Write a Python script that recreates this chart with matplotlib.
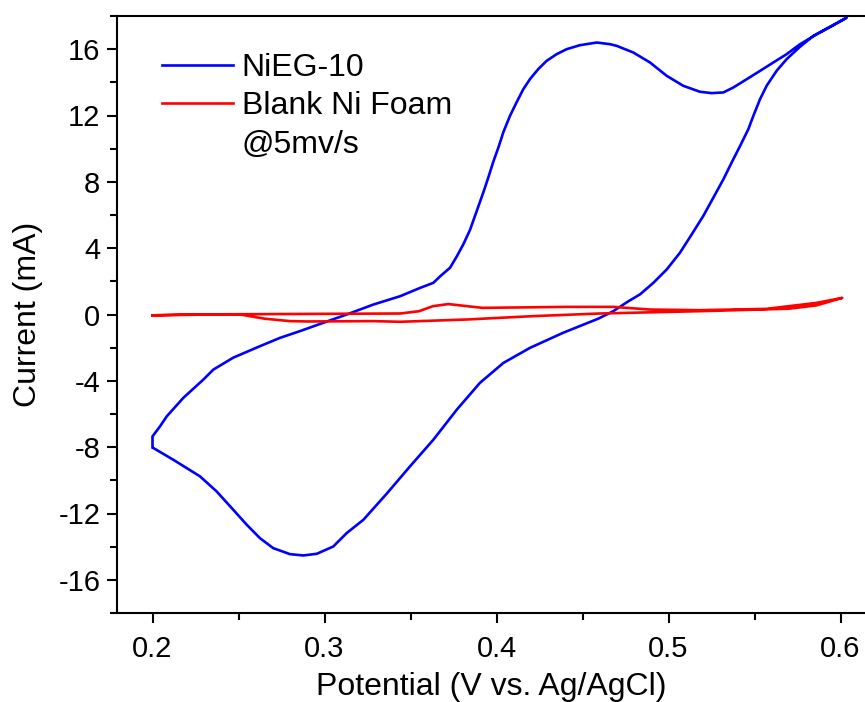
import matplotlib
matplotlib.use('Agg')
import matplotlib.pyplot as plt
from matplotlib.lines import Line2D
from matplotlib.ticker import MultipleLocator

plt.rcParams.update({'font.family': 'Liberation Sans', 'font.size': 21})

# NiEG-10 cyclic voltammogram, anodic then cathodic sweep
nieg_v = [0.200, 0.200, 0.2044, 0.2083, 0.2179, 0.2295, 0.2354, 0.247, 0.2625, 0.2741,
          0.2858, 0.2993, 0.3129, 0.3284, 0.3439, 0.3555, 0.3633, 0.3672, 0.373,
          0.3769, 0.3807, 0.3846, 0.3885, 0.3923, 0.3952, 0.3981, 0.4011, 0.404,
          0.4078, 0.4117, 0.4156, 0.4195, 0.4243, 0.4292, 0.435, 0.4408, 0.4485,
          0.4583, 0.466, 0.4699, 0.4795, 0.4892, 0.499, 0.5086, 0.5183, 0.5251,
          0.5319, 0.5377, 0.5455, 0.5532, 0.561, 0.5687, 0.5765, 0.5862, 0.596,
          0.6036,
          0.5842, 0.5765, 0.5687, 0.5629, 0.5571, 0.5532, 0.5493, 0.5464, 0.5416,
          0.5367, 0.5319, 0.5261, 0.5202, 0.5135, 0.5067, 0.499, 0.4912, 0.4834,
          0.4767, 0.4679, 0.4592, 0.4388, 0.4195, 0.404, 0.3904, 0.3769, 0.3633,
          0.3497, 0.3362, 0.3226, 0.3129, 0.3051, 0.2955, 0.2877, 0.2799, 0.2702,
          0.2625, 0.2548, 0.247, 0.2373, 0.2276, 0.2121, 0.2005]
nieg_i = [-8.0, -7.35, -6.74, -6.14, -5.03, -3.93, -3.32, -2.6, -1.91, -1.41,
          -1.0, -0.5, 0.0, 0.6, 1.1, 1.6, 1.91, 2.3, 2.82,
          3.5, 4.23, 5.1, 6.24, 7.35, 8.25, 9.2, 10.07, 11.0,
          11.97, 12.8, 13.59, 14.2, 14.8, 15.3, 15.7, 16.0, 16.24,
          16.4, 16.3, 16.2, 15.8, 15.2, 14.39, 13.79, 13.43, 13.35,
          13.39, 13.69, 14.19, 14.69, 15.2, 15.7, 16.3, 16.9, 17.45,
          17.9,
          16.8, 16.15, 15.4, 14.7, 13.8, 12.98, 11.97, 11.17, 10.16,
          9.16, 8.15, 7.05, 5.94, 4.83, 3.73, 2.72, 1.91, 1.21,
          0.8, 0.2, -0.25, -1.1, -2.01, -2.92, -4.12, -5.74, -7.55,
          -9.16, -10.8, -12.38, -13.18, -13.99, -14.43, -14.53, -14.45, -14.09,
          -13.49, -12.68, -11.78, -10.67, -9.76, -8.76, -8.05]

# Blank Ni foam
blank_v = [0.200, 0.220, 0.300, 0.344, 0.355, 0.363, 0.372, 0.383, 0.392, 0.441,
           0.468, 0.489, 0.518, 0.557, 0.586, 0.601,
           0.586, 0.570, 0.518, 0.460, 0.421, 0.383, 0.344, 0.328, 0.290, 0.280,
           0.265, 0.251, 0.235, 0.200]
blank_i = [-0.05, 0.0, 0.04, 0.06, 0.2, 0.5, 0.63, 0.5, 0.4, 0.46,
           0.46, 0.3, 0.26, 0.34, 0.7, 1.0,
           0.55, 0.35, 0.2, 0.06, -0.1, -0.3, -0.44, -0.4, -0.42, -0.4,
           -0.25, 0.0, 0.0, -0.05]

fig = plt.figure(figsize=(8.65, 7.02), dpi=100)
ax = fig.add_axes([117/865, 89/702, 748/865, 597/702])

ax.plot(nieg_v, nieg_i, color='#0000ff', linewidth=1.9, label='NiEG-10')
ax.plot(blank_v, blank_i, color='#ff0000', linewidth=1.9, label='Blank Ni Foam')

ax.set_xlim(0.2 - 35.5/1720, 0.2 + 712.5/1720)
ax.set_ylim(-18, 18)
ax.xaxis.set_minor_locator(MultipleLocator(0.05))
ax.yaxis.set_minor_locator(MultipleLocator(2))
ax.set_xticks([0.2, 0.3, 0.4, 0.5, 0.6])
ax.set_xticklabels(['0.2', '0.3', '0.4', '0.5', '0.6'])
ax.set_yticks(range(-16, 17, 4))
ax.set_yticklabels([str(v) for v in range(-16, 17, 4)])

ax.tick_params(which='major', direction='out', length=7.5, width=1.5, labelsize=21)
ax.tick_params(which='minor', direction='out', length=5, width=1.5)
ax.tick_params(axis='x', which='major', pad=8.5)
ax.tick_params(axis='y', which='major', pad=4.5)
ax.spines['right'].set_visible(False)
for s in ['left', 'bottom', 'top']:
    ax.spines[s].set_linewidth(1.5)

ax.set_xlabel('Potential (V vs. Ag/AgCl)', fontsize=23, labelpad=6)
ax.set_ylabel('Current (mA)', fontsize=23, labelpad=11)

handles, labels = ax.get_legend_handles_labels()
handles.append(Line2D([], [], color='none'))
labels.append('@5mv/s')
ax.legend(handles, labels, loc='upper left', bbox_to_anchor=(0.06, 0.938),
          frameon=False, fontsize=23, handlelength=2.22, handletextpad=0.28,
          labelspacing=0.26, borderpad=0, borderaxespad=0)

fig.savefig('out.png', dpi=100)
